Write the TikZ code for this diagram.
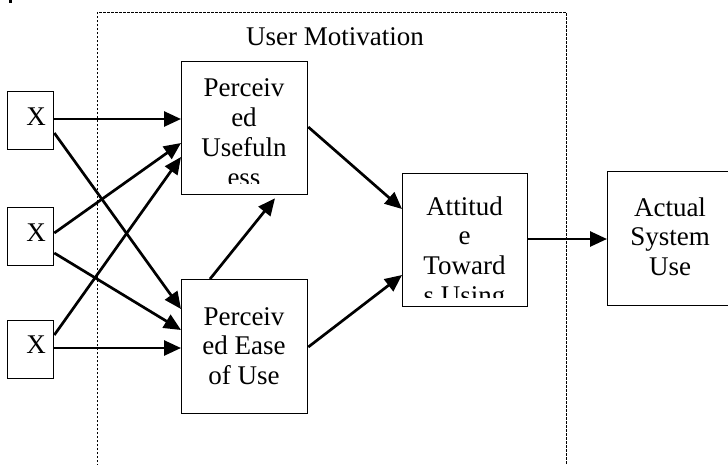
\documentclass[tikz,border=0pt]{standalone}
\usepackage{fontspec}
\setmainfont{Liberation Serif}
\usetikzlibrary{arrows.meta,calc}
\newcommand{\lines}[1]{\begin{tabular}[t]{@{}c@{}}#1\end{tabular}}
\begin{document}
\begin{tikzpicture}[x=1pt,y=-1pt,
  box/.style={draw,line width=1.3pt,rectangle,inner sep=0pt,anchor=north west},
  lbl/.style={font=\fontsize{27}{29.8}\selectfont,inner sep=0pt,anchor=base},
  arr/.style={line width=2.7pt,-{Triangle[length=17pt,width=15pt]}},
  frame/.style={line width=0.8pt,dash pattern=on 2.5pt off 1.5pt}]
\clip (0,0) rectangle (728,464);
\useasboundingbox (0,0) rectangle (728,464);
\fill (9,0) rectangle (12,2.5);
% frame
\coordinate (f1) at (97,470);
\coordinate (f2) at (97,12);
\coordinate (f3) at (566,12);
\coordinate (f4) at (566,470);
\draw[frame] (f1) -- (f2) -- (f3) -- (f4);
\node[lbl] (um) at (335,45) {User Motivation};
% boxes
\node[box,minimum width=46pt,minimum height=58pt] (x1) at (7,91) {};
\node[box,minimum width=46pt,minimum height=58pt] (x2) at (7,207) {};
\node[box,minimum width=46pt,minimum height=58pt] (x3) at (7,320) {};
\node[box,minimum width=126pt,minimum height=133pt] (pu) at (181,61) {};
\node[box,minimum width=126pt,minimum height=134pt] (peu) at (181,279) {};
\node[box,minimum width=125pt,minimum height=133pt] (atu) at (402,173) {};
\node[box,minimum width=126pt,minimum height=134pt] (asu) at (607,171) {};
% texts
\node[lbl] (tx1) at (36,125) {X};
\node[lbl] (tx2) at (36,241.5) {X};
\node[lbl] (tx3) at (36,353.5) {X};
\begin{scope}
\clip (182,62) rectangle (306,183);
\node[lbl] (tpu) at (244,96.7) {\lines{Perceiv\\ed\\Usefuln\\ess}};
\end{scope}
\node[lbl] (tpeu) at (244,325) {\lines{Perceiv\\ed Ease\\of Use}};
\begin{scope}
\clip (403,174) rectangle (526,297);
\node[lbl] (tatu) at (464.5,215) {\lines{Attitud\\e\\Toward\\s Using}};
\end{scope}
\node[lbl] (tasu) at (670,216) {\lines{Actual\\System\\Use}};
% arrows
\draw[arr] ($(x1.north east)+(0,28)$) -- ($(pu.north west)+(0,58)$);
\draw[arr] ($(x1.north east)+(0,42)$) -- ($(peu.north west)+(0,30)$);
\draw[arr] ($(x2.north east)+(0,26)$) -- ($(pu.north west)+(0,82)$);
\draw[arr] ($(x2.north east)+(0,46)$) -- ($(peu.north west)+(0,51)$);
\draw[arr] ($(x3.north east)+(0,15)$) -- ($(pu.north west)+(0,96)$);
\draw[arr] ($(x3.north east)+(0,28)$) -- ($(peu.north west)+(0,69)$);
\draw[arr] ($(pu.north east)+(0,66)$) -- ($(atu.north west)+(0,36)$);
\draw[arr] ($(peu.north east)+(0,68)$) -- ($(atu.north west)+(0,102)$);
\draw[arr] ($(peu.north west)+(29,0)$) -- ($(pu.south west)+(94,3)$);
\draw[arr] ($(atu.north east)+(0,66)$) -- ($(asu.north west)+(0,68)$);
\end{tikzpicture}
\end{document}
